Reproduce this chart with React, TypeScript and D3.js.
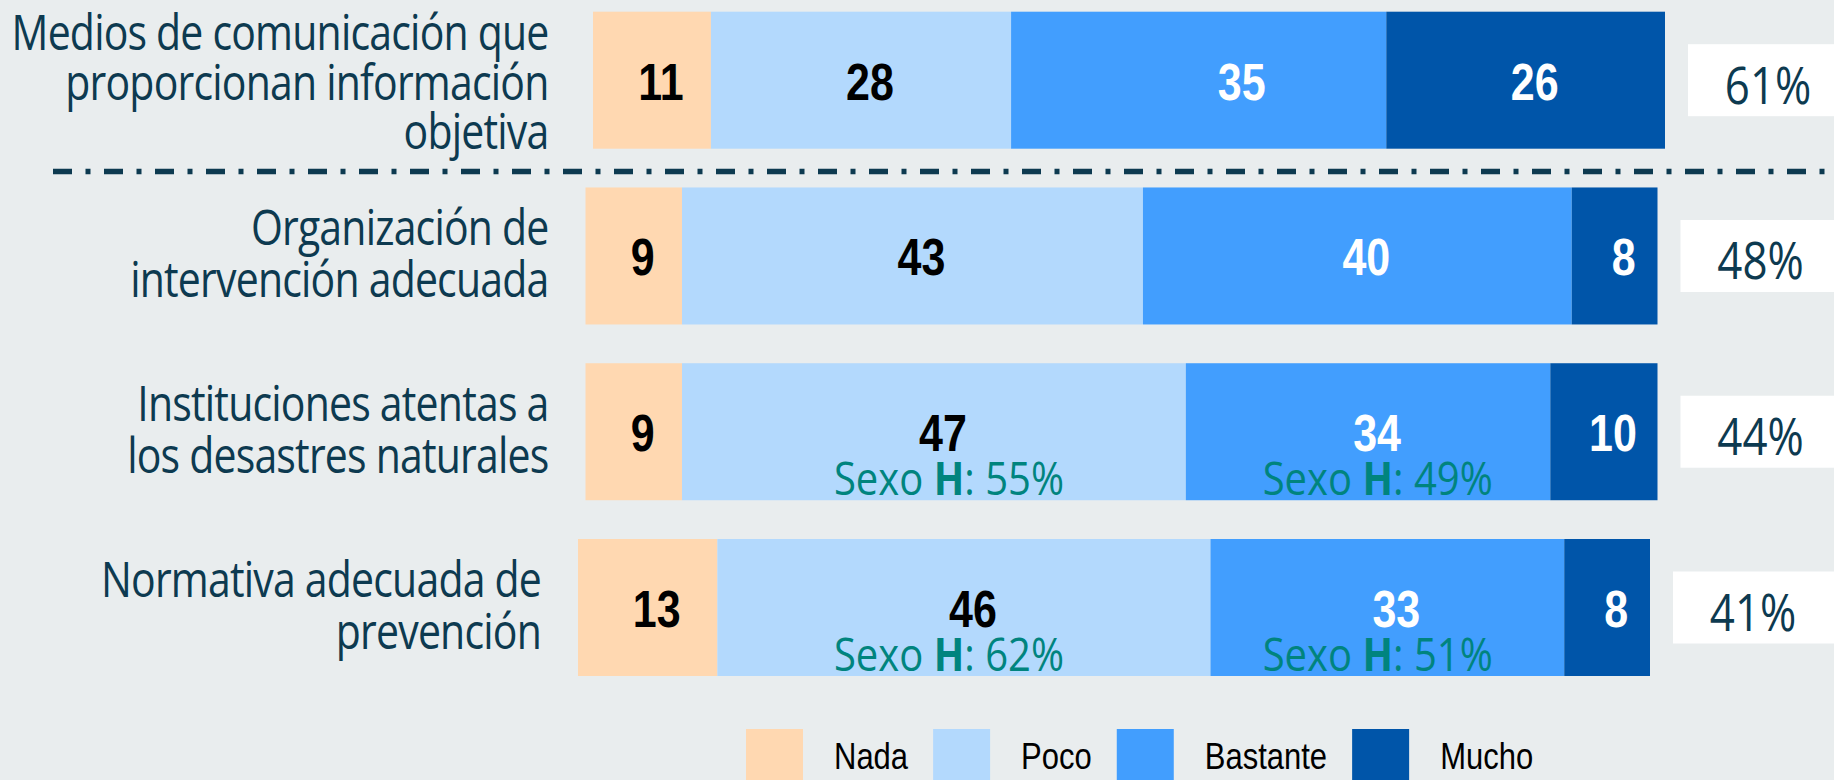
import React from "react";
import * as d3 from "d3";

// ---------- data ----------
const categories = ["Nada", "Poco", "Bastante", "Mucho"];
const rowLabels: string[][] = [
  ["Medios de comunicación que", "proporcionan información", "objetiva"],
  ["Organización de", "intervención adecuada"],
  ["Instituciones atentas a", "los desastres naturales"],
  ["Normativa adecuada de", "prevención"],
];
const nada = [11, 9, 9, 13];
const poco = [28, 43, 47, 46];
const bastante = [35, 40, 34, 33];
const mucho = [26, 8, 10, 8];
const totals = [61, 48, 44, 41];
const sexoHPoco: (number | null)[] = [null, null, 55, 62];
const sexoHBastante: (number | null)[] = [null, null, 49, 51];

// ---------- style / layout ----------
const W = 1834;
const H = 780;
const BG = "#E9EDEE";
const colors = ["#FFD8B1", "#B3D9FD", "#429EFE", "#0055A9"];
const numColors = ["#000000", "#000000", "#FFFFFF", "#FFFFFF"];
const navy = "#0D3A50";
const teal = "#00847E";
const LABEL_FONT = "'Open Sans', 'Noto Sans', sans-serif";
const NUM_FONT = "'Liberation Sans', Arial, sans-serif";
const rowShift = [0, -7.5, -7.5, -15];
const labelRightShift = [-7.5, 0, 0, 0];
const numNudge: Record<string, number> = { "0-2": 34 };
const SY = 1.2; // vertical stretch of the glyphs

function measure(text: string, font: string): number {
  if (typeof document === "undefined") return text.length * 15;
  const c = document.createElement("canvas");
  const ctx = c.getContext("2d");
  if (!ctx) return text.length * 15;
  ctx.font = font;
  return ctx.measureText(text).width;
}

function T(props: any) {
  const { x, y, sx = 1, sy = SY, children, ...rest } = props;
  return (
    <text transform={`translate(${x},${y}) scale(${sx},${sy})`} {...rest}>
      {children}
    </text>
  );
}

export default function App() {
  const series = [nada, poco, bastante, mucho];
  const x = d3.scaleLinear().domain([0, 100]).range([0, 1072]);
  const barX0 = 593;
  const yTop = d3.scaleLinear().domain([0, 3]).range([11.7, 539]);
  const barH = 137;

  const rows = rowLabels.map((lab, i) => {
    const vals = series.map((s) => s[i]);
    const stacked = d3.cumsum(vals);
    const x0 = barX0 + rowShift[i];
    const segs = vals.map((v, k) => {
      const start = k === 0 ? 0 : stacked[k - 1];
      return { k, v, xs: x0 + x(start), xe: x0 + x(start + v) };
    });
    return { i, lab, segs, x0, top: yTop(i), c: yTop(i) + barH / 2, end: x0 + x(d3.sum(vals)) };
  });

  const colCenter = (k: number, arr: (number | null)[]) => {
    const cs = rows.filter((r) => arr[r.i] != null).map((r) => (r.segs[k].xs + r.segs[k].xe) / 2);
    return d3.mean(cs) as number;
  };
  const pocoCol = colCenter(1, sexoHPoco);
  const bastCol = colCenter(2, sexoHBastante);

  const legFont = `31px 'Liberation Sans', Arial, sans-serif`;
  let lx = 746;
  const legend = categories.map((cat, k) => {
    const item = { cat, k, sx: lx, tx: lx + 88 };
    lx = lx + 88 + measure(cat, legFont) + 25;
    return item;
  });

  const sexo = (val: number, cx: number, r: any) => (
    <T x={cx} y={r.top + barH - 5} sy={1.15} textAnchor="middle" fontFamily={LABEL_FONT} fontSize={40} fill={teal}>
      <tspan>Sexo </tspan>
      <tspan fontWeight="bold">H</tspan>
      <tspan>: {val}%</tspan>
    </T>
  );

  return (
    <svg
      width={W}
      height={H}
      viewBox={`0 0 ${W} ${H}`}
      style={{ position: "absolute", left: 0, top: 0, display: "block" }}
    >
      <rect x={0} y={0} width={W} height={H} fill={BG} />

      {rows.map((r) => (
        <g key={r.i}>
          {r.segs.map((s) => (
            <rect key={s.k} x={s.xs} y={r.top} width={s.xe - s.xs} height={barH} fill={colors[s.k]} />
          ))}
          {r.segs.map((s) => (
            <T
              key={"n" + s.k}
              x={(s.xs + s.xe) / 2 + 9 + (numNudge[`${r.i}-${s.k}`] || 0)}
              y={r.c + 19.5}
              textAnchor="middle"
              fontFamily={NUM_FONT}
              fontWeight="bold"
              fontSize={43}
              fill={numColors[s.k]}
            >
              {s.v}
            </T>
          ))}
          {r.lab.map((line, li) => {
            const n = r.lab.length;
            const lh = n === 3 ? 49.5 : 52.5;
            const base = n === 3 ? r.c - 30 : r.c - 11;
            return (
              <T
                key={"l" + li}
                x={r.x0 + labelRightShift[r.i] - 37}
                y={base + li * lh}
                textAnchor="end"
                fontFamily={LABEL_FONT}
                fontSize={41}
                letterSpacing={-0.8}
                fill={navy}
              >
                {line}
              </T>
            );
          })}
          <rect x={r.end + 23} y={r.c - 36} width={200} height={72} fill="#FFFFFF" />
          <T
            x={r.end + 23 + 80}
            y={r.c + 23.5}
            sx={1.02}
            sy={1.18}
            textAnchor="middle"
            fontFamily={LABEL_FONT}
            fontSize={43}
            fill={navy}
          >
            {totals[r.i]}%
          </T>
          {sexoHPoco[r.i] != null && sexo(sexoHPoco[r.i] as number, pocoCol, r)}
          {sexoHBastante[r.i] != null && sexo(sexoHBastante[r.i] as number, bastCol, r)}
        </g>
      ))}

      <line
        x1={53}
        x2={W}
        y1={171.5}
        y2={171.5}
        stroke={navy}
        strokeWidth={5.5}
        strokeDasharray="19 13.5 5 13.5"
      />

      {legend.map((l) => (
        <g key={l.cat}>
          <rect x={l.sx} y={729} width={57} height={57} fill={colors[l.k]} />
          <T x={l.tx} y={769} fontFamily={NUM_FONT} fontSize={31} fill="#000000">
            {l.cat}
          </T>
        </g>
      ))}
    </svg>
  );
}
